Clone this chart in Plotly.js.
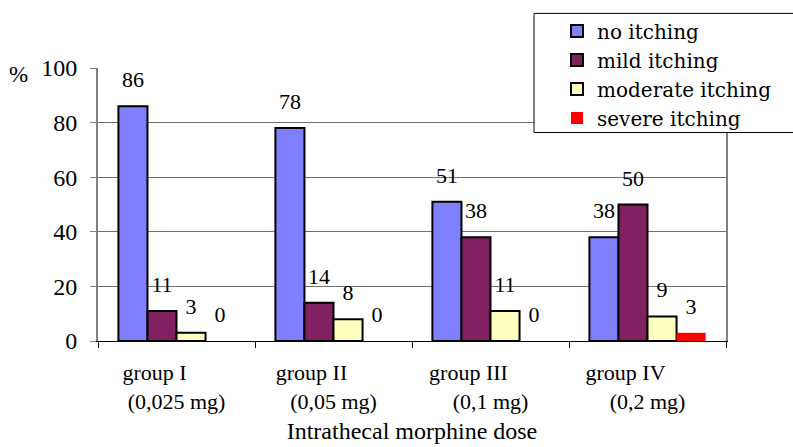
<!DOCTYPE html>
<html>
<head>
<meta charset="utf-8">
<script src="https://cdn.plot.ly/plotly-3.0.1.min.js"></script>
<style>html,body{margin:0;padding:0;background:#fff;}#chart{width:793px;height:447px;}</style>
</head>
<body>
<div id="chart"></div>
<script>
const groupNames = ["group I", "group II", "group III", "group IV"];
const groupDoses = ["(0,025 mg)", "(0,05 mg)", "(0,1 mg)", "(0,2 mg)"];
const seriesNames = ["no itching", "mild itching", "moderate itching", "severe itching"];
const noItching = [86, 78, 51, 38];
const mildItching = [11, 14, 38, 50];
const moderateItching = [3, 8, 11, 9];
const severeItching = [0, 0, 0, 3];
const yTicks = [0, 20, 40, 60, 80, 100];

const colors = ["#8080FF", "#802060", "#FFFFC0", "#FF0000"];
const values = [noItching, mildItching, moderateItching, severeItching];
const NB = "\u00A0";
const tickText = groupNames.map((g, i) => g + NB.repeat(8) + "<br>" + groupDoses[i]);

const serif = "Liberation Serif";
const legendFont = "DejaVu Serif";
const traces = [];
values.forEach((vals, k) => {
  traces.push({
    type: "bar",
    name: seriesNames[k],
    x: groupNames,
    y: vals,
    offsetgroup: String(k),
    marker: {color: colors[k], line: {color: k === 3 ? colors[k] : "#000", width: k === 3 ? 0 : 2}},
    hoverinfo: "skip"
  });
});
values.forEach((vals, k) => {
  traces.push({
    type: "scatter",
    mode: "markers+text",
    x: groupNames,
    y: vals,
    offsetgroup: String(k),
    text: vals.map(String),
    textposition: "top center",
    textfont: {family: serif, size: 22, color: "#000"},
    marker: {size: 20, color: "rgba(0,0,0,0)"},
    showlegend: false,
    hoverinfo: "skip",
    cliponaxis: false
  });
});

const layout = {
  width: 793, height: 447,
  margin: {l: 98, r: 67, t: 66, b: 106},
  paper_bgcolor: "#fff", plot_bgcolor: "#fff",
  barmode: "group", bargap: 0.26, bargroupgap: 0,
  scattermode: "group", scattergap: 0.26,
  font: {family: serif, color: "#000", size: 22},
  xaxis: {
    type: "category",
    tickvals: groupNames, ticktext: tickText,
    tickson: "boundaries", ticks: "outside", ticklen: 6, tickcolor: "#000",
    showline: true, linecolor: "#000", linewidth: 1,
    showgrid: false, zeroline: false,
    tickfont: {family: serif, size: 22, color: "#000"},
    ticklabelstandoff: 12,
    title: {text: "Intrathecal morphine dose", font: {family: serif, size: 24, color: "#000"}, standoff: 9}
  },
  yaxis: {
    range: [0, 100], tickvals: yTicks,
    ticks: "outside", ticklen: 6, tickcolor: "#808080",
    showline: true, linecolor: "#808080", linewidth: 2, mirror: true,
    showgrid: true, gridcolor: "#707070", gridwidth: 1,
    zeroline: false,
    tickfont: {family: serif, size: 24, color: "#000"},
    ticklabelstandoff: 8
  },
  legend: {
    x: 0.7309, y: 1.207, xanchor: "left", yanchor: "top",
    bgcolor: "rgba(0,0,0,0)", borderwidth: 0,
    font: {family: legendFont, size: 20, color: "#000"},
    itemwidth: 30, tracegroupgap: 0
  },
  shapes: [{
    type: "rect", xref: "paper", yref: "paper", layer: "above",
    x0: 0.6943, x1: 1.12, y0: 0.7636, y1: 1.2,
    fillcolor: "#fff", line: {color: "#000", width: 1}
  }],
  annotations: [{
    text: "%", xref: "paper", yref: "paper", x: -0.126, y: 0.978,
    xanchor: "center", yanchor: "middle", showarrow: false,
    font: {family: serif, size: 23, color: "#000"}
  }],
  showlegend: true
};

Plotly.newPlot("chart", traces, layout, {displayModeBar: false, staticPlot: true});
</script>
</body>
</html>
